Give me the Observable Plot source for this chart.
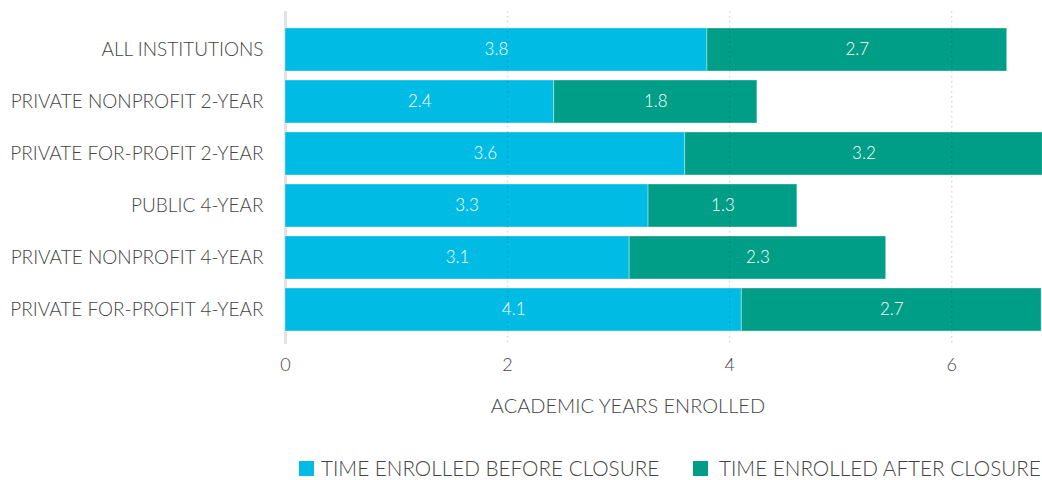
<!DOCTYPE html>
<html>
<head>
<meta charset="utf-8">
<script src="https://cdn.jsdelivr.net/npm/d3@7"></script>
<script src="https://cdn.jsdelivr.net/npm/@observablehq/plot@0.6"></script>
<style>
  body { margin: 0; background: #fff; font-family: Lato, "Open Sans", sans-serif; }
  #wrap { position: relative; width: 1042px; height: 480px; }
  #xtitle { position: absolute; top: 393px; left: 628px; transform: translateX(-50%); font-size: 20px; font-weight: 300; color: #444; white-space: nowrap; }
  .leg { position: absolute; top: 456px; display: flex; align-items: center; font-size: 20.7px; font-weight: 300; color: #444; white-space: nowrap; }
  .sw { width: 15px; height: 15px; display: inline-block; }
</style>
</head>
<body>
<div id="wrap">
  <div id="chart"></div>
  <div id="xtitle"></div>
  <div id="legend"></div>
</div>
<script>
const categories = ["ALL INSTITUTIONS", "PRIVATE NONPROFIT 2-YEAR", "PRIVATE FOR-PROFIT 2-YEAR", "PUBLIC 4-YEAR", "PRIVATE NONPROFIT 4-YEAR", "PRIVATE FOR-PROFIT 4-YEAR"];
const before = [3.8, 2.42, 3.6, 3.27, 3.1, 4.11];
const after = [2.7, 1.83, 3.22, 1.34, 2.31, 2.7];
const seriesNames = ["TIME ENROLLED BEFORE CLOSURE", "TIME ENROLLED AFTER CLOSURE"];
const seriesColors = ["#00BCE4", "#009E87"];
const xTicks = [0, 2, 4, 6];
const xTitle = "ACADEMIC YEARS ENROLLED";

const data = [];
categories.forEach((c, i) => {
  data.push({category: c, series: seriesNames[0], value: before[i]});
  data.push({category: c, series: seriesNames[1], value: after[i]});
});

const chart = Plot.plot({
  width: 1042,
  height: 430,
  marginLeft: 285,
  marginRight: 2,
  marginTop: 16,
  marginBottom: 88,
  style: {fontFamily: "Lato, 'Open Sans', sans-serif", fontSize: "18px", fontWeight: 300, color: "#444"},
  x: {domain: [0, 6.8], ticks: xTicks, label: null},
  y: {domain: categories, padding: 0.18, label: null},
  color: {domain: seriesNames, range: seriesColors},
  marks: [
    Plot.ruleX([0], {stroke: "#e3e3e3", strokeWidth: 3, insetTop: -5, insetBottom: -2}),
    Plot.barX(data, Plot.stackX({x: "value", y: "category", fill: "series", z: "series", order: seriesNames, stroke: "white", strokeOpacity: 0.35, strokeWidth: 1})),
    Plot.gridX(xTicks.filter(d => d > 0), {stroke: "#000", strokeOpacity: 0.14, strokeWidth: 1.5, strokeDasharray: "1.5,3.5", insetTop: -5, insetBottom: -2}),
    Plot.text(data, Plot.stackX({x: "value", y: "category", z: "series", order: seriesNames, text: d => d3.format(".1f")(d.value), fill: "white", fontSize: 17, fontWeight: 300})),
    Plot.axisX({ticks: xTicks, tickFormat: d3.format("d"), tickSize: 0, tickPadding: 16, fontSize: 18, label: null}),
    Plot.axisY({tickSize: 0, tickPadding: 22, fontSize: 19, label: null})
  ]
});
document.getElementById("chart").appendChild(chart);
document.getElementById("xtitle").textContent = xTitle;

const legendLefts = [299, 693];
const legendGaps = [7, 11];
const leg = document.getElementById("legend");
seriesNames.forEach((s, i) => {
  const item = document.createElement("div");
  item.className = "leg";
  item.style.left = legendLefts[i] + "px";
  const sw = document.createElement("span");
  sw.className = "sw";
  sw.style.background = seriesColors[i];
  sw.style.marginRight = legendGaps[i] + "px";
  item.appendChild(sw);
  const t = document.createElement("span");
  t.textContent = s;
  item.appendChild(t);
  leg.appendChild(item);
});
</script>
</body>
</html>
